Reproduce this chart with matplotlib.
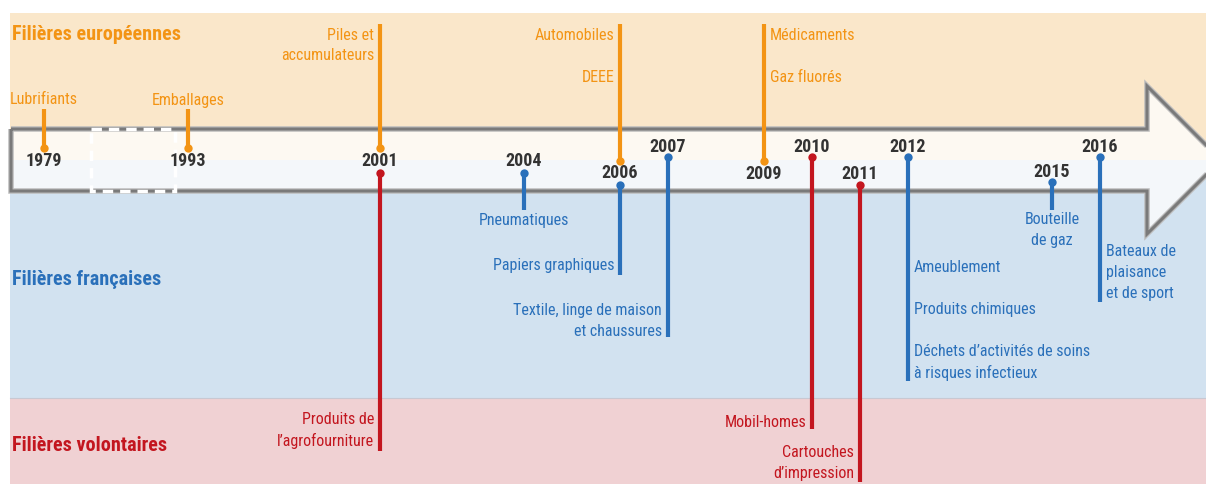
import matplotlib
matplotlib.use("Agg")
import matplotlib.pyplot as plt
import numpy as np
from matplotlib.patches import Polygon, Rectangle

# ---------------- data ----------------
eu_years = [1979, 1993, 2001, 2006, 2009]
eu_labels = ["Lubrifiants", "Emballages", "Piles et\naccumulateurs",
             "Automobiles\n\nDEEE", "Médicaments\n\nGaz fluorés"]

fr_years = [2004, 2006, 2007, 2012, 2015, 2016]
fr_labels = ["Pneumatiques", "Papiers graphiques",
             "Textile, linge de maison\net chaussures",
             "Ameublement\n\nProduits chimiques\n\nDéchets d’activités de soins\nà risques infectieux",
             "Bouteille\nde gaz", "Bateaux de\nplaisance\net de sport"]

vol_years = [2001, 2010, 2011]
vol_labels = ["Produits de\nl’agrofourniture", "Mobil-homes", "Cartouches\nd’impression"]

year_ticks = [1979, 1993, 2001, 2004, 2006, 2007, 2009, 2010, 2011, 2012, 2015, 2016]

titles = ["Filières européennes", "Filières françaises", "Filières volontaires"]

# ---------------- layout / styles ----------------
W, H = 1206, 485
ORANGE = "#F39414"
BLUE = "#2A70BA"
RED = "#C3161F"
DARK = "#333333"

plt.rcParams["font.family"] = ["Roboto Condensed", "DejaVu Sans"]

# per-event layout (pixel y positions): dot, stem end, first text line, ha
eu_layout = [(149, 110, 100, "center"), (149, 110, 100, "center"), (149, 25, 35, "right"),
             (162, 25, 35, "right"), (162, 25, 35, "left")]
fr_layout = [(174, 211, 221, "center"), (186, 276, 266, "right"), (158, 338, 311, "right"),
             (158, 382, 268, "left"), (183, 211, 220, "center"), (158, 303, 252, "left")]
vol_layout = [(174, 452, 420, "right"), (158, 430, 423, "right"), (186, 483, 453, "right")]
year_label_y = {1979: 161, 1993: 161, 2001: 161, 2004: 161, 2006: 173, 2007: 147, 2009: 174,
                2010: 147, 2011: 174, 2012: 147, 2015: 172, 2016: 147}

fig = plt.figure(figsize=(W / 100, H / 100), dpi=100)
fig.patch.set_facecolor("white")

# background axes in pixel coordinates
bg = fig.add_axes([0, 0, 1, 1])
bg.set_xlim(0, W)
bg.set_ylim(H, 0)
bg.axis("off")

bg.add_patch(Rectangle((10, 14), W - 10, 147, facecolor="#FAE7CA", edgecolor="none", zorder=0))
bg.add_patch(Rectangle((10, 161), W - 10, 238, facecolor="#D2E2F0", edgecolor="none", zorder=0))
bg.add_patch(Rectangle((10, 399), W - 10, 90, facecolor="#F0D1D3", edgecolor="none", zorder=0))
bg.plot([10, W], [399, 399], color="#C8C8D2", lw=0.8, zorder=0.5)

arrow = [(11, 130), (1147, 130), (1147, 87), (1221, 161), (1147, 235), (1147, 192), (11, 192)]
bg.add_patch(Polygon(arrow, closed=True, facecolor="#FDF9F2", edgecolor="none", zorder=1))
lower = [(11, 161), (1221, 161), (1147, 235), (1147, 192), (11, 192)]
bg.add_patch(Polygon(lower, closed=True, facecolor="#F4F7FA", edgecolor="none", zorder=1.1))
bg.add_patch(Polygon(arrow, closed=True, facecolor="none", edgecolor="#BDBDBD", lw=4, zorder=1.2))
bg.add_patch(Polygon(arrow, closed=True, facecolor="none", edgecolor="#7A7A7A", lw=2.2, zorder=1.3))
bg.add_patch(Rectangle((91, 130), 84, 62, facecolor="none", edgecolor="white", lw=2.5,
                       linestyle=(0, (3, 2)), zorder=1.5))

title_y = [34, 280, 446]
for t, y, c in zip(titles, title_y, [ORANGE, BLUE, RED]):
    bg.text(12, y, t, color=c, fontsize=14.5, fontweight="bold", va="center", ha="left", zorder=5)

# timeline axes: x in years through a broken (compressed) scale
ax = fig.add_axes([0, 0, 1, 1], facecolor="none")
xp = [1900, 1979, 1993, 2001, 2100]
fp = [1915, 1994, 1997, 2001, 2100]
fwd = lambda x: np.interp(x, xp, fp)
inv = lambda x: np.interp(x, fp, xp)
ax.set_xscale("function", functions=(fwd, inv))
ax.set_xlim(inv(2001 - 380 / 48), inv(2001 + (W - 380) / 48))
ax.set_ylim(H, 0)
ax.axis("off")

LINE = 21
LABEL_FS = 11.5


def draw(years, labels, layout, color):
    for yr, lab, (dot, end, ty, ha) in zip(years, labels, layout):
        ax.plot([yr, yr], [dot, end], color=color, lw=3, solid_capstyle="butt", zorder=3)
        ax.plot([yr], [dot], marker="o", ms=6, color=color, mec="none", zorder=4)
        dx = {"center": 0, "right": -6, "left": 6}[ha]
        for i, line in enumerate(lab.split("\n")):
            if not line:
                continue
            ax.annotate(line, xy=(yr, ty + i * LINE), xytext=(dx, 0), textcoords="offset pixels",
                        ha=ha, va="center", color=color, fontsize=LABEL_FS, zorder=5)


draw(eu_years, eu_labels, eu_layout, ORANGE)
draw(fr_years, fr_labels, fr_layout, BLUE)
draw(vol_years, vol_labels, vol_layout, RED)

for yr in year_ticks:
    ax.text(yr, year_label_y[yr], str(yr), ha="center", va="center", color=DARK,
            fontsize=13, fontweight="bold", zorder=5)

fig.savefig("out.png", dpi=100, facecolor="white")
